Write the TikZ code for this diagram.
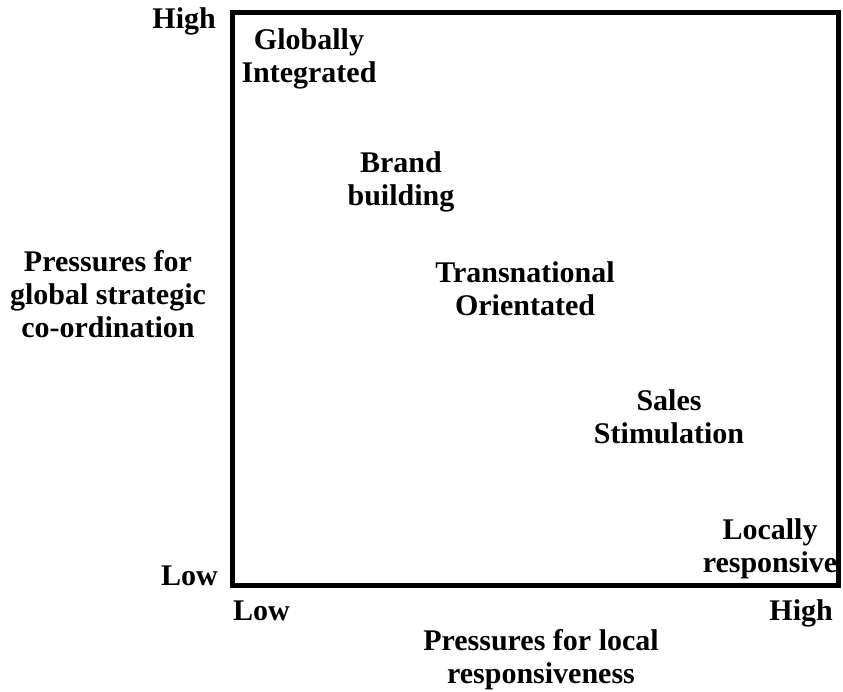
\documentclass[tikz,border=0pt]{standalone}
\usepackage{fontspec}
\setmainfont{Liberation Serif}
\usetikzlibrary{positioning}

\tikzset{
	lbl/.style={inner sep=0pt, align=center, anchor=base, font=\fontsize{30}{33}\selectfont\bfseries},
}

\begin{document}
\begin{tikzpicture}[x=1pt, y=-1pt]
	\useasboundingbox (0,0) rectangle (843,691);

	% the matrix frame
	\coordinate (tl) at (232,12.5);
	\coordinate (br) at (838,585);
	\draw[line width=5pt] (tl) rectangle (br);

	% axis ends
	\node[lbl, anchor=base east] (yhigh) at (216,28) {High};
	\node[lbl, anchor=base east] (ylow) at (218,585) {Low};
	\node[lbl, anchor=base west] (xlow) at (233,620) {Low};
	\node[lbl, anchor=base east] (xhigh) at (833,620) {High};

	% axis titles (base = last line)
	\node[lbl] (ytitle) at (108,337) {Pressures for\\global strategic\\co-ordination};
	\node[lbl] (xtitle) at (541,683) {Pressures for local\\responsiveness};

	% orientations
	\node[lbl] (glob) at (309,82) {Globally\\Integrated};
	\node[lbl] (brand) at (401,205) {Brand\\building};
	\node[lbl] (trans) at (525,315) {Transnational\\Orientated};
	\node[lbl] (sales) at (669,443) {Sales\\Stimulation};
	\node[lbl] (local) at (770,572) {Locally\\responsive};
\end{tikzpicture}
\end{document}
